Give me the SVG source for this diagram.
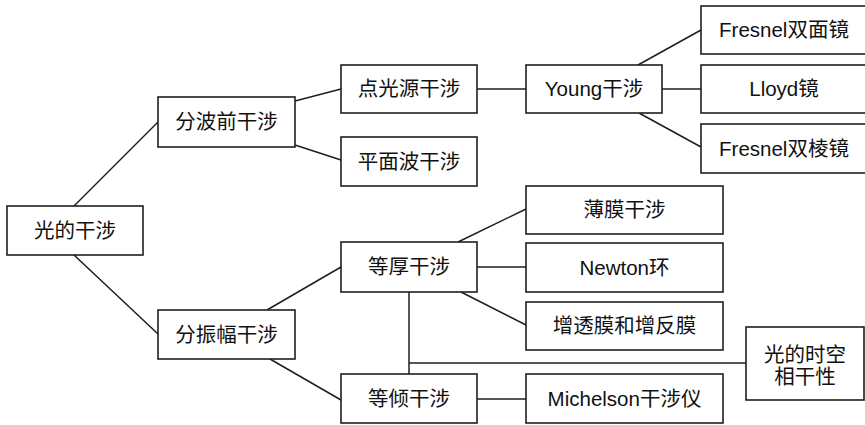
<svg xmlns="http://www.w3.org/2000/svg" width="865" height="425" viewBox="0 0 865 425">
<style>
rect{fill:#fff;stroke:#1e1e1e;stroke-width:1.6}
text{font-family:"Liberation Sans","Noto Sans CJK SC",sans-serif;font-size:20.5px;fill:#111;text-anchor:middle}
#edges line{stroke:#1e1e1e;stroke-width:1.5}
</style>
<rect x="0" y="0" width="865" height="425" style="stroke:none"/>
<g id="edges">
<line x1="74" y1="206" x2="158" y2="122"/>
<line x1="74" y1="255" x2="158" y2="334"/>
<line x1="295" y1="101" x2="341" y2="89"/>
<line x1="295" y1="145" x2="341" y2="160"/>
<line x1="477" y1="89" x2="526" y2="89"/>
<line x1="638" y1="65" x2="701" y2="30"/>
<line x1="662" y1="89" x2="701" y2="89"/>
<line x1="639" y1="113" x2="701" y2="147"/>
<line x1="267" y1="310" x2="341" y2="267"/>
<line x1="270" y1="359" x2="341" y2="400"/>
<line x1="458" y1="242" x2="526" y2="209"/>
<line x1="477" y1="267" x2="526" y2="267"/>
<line x1="461" y1="292" x2="526" y2="325"/>
<line x1="409" y1="292" x2="409" y2="374"/>
<line x1="409" y1="363" x2="746" y2="363"/>
<line x1="477" y1="399" x2="526" y2="399"/>
</g>
<g id="n0"><rect x="7" y="206" width="136" height="49"/><text x="75" y="237.5">光的干涉</text></g>
<g id="n1"><rect x="158" y="97" width="137" height="50"/><text x="226.5" y="129">分波前干涉</text></g>
<g id="n2"><rect x="158" y="310" width="137" height="49"/><text x="226.5" y="341.5">分振幅干涉</text></g>
<g id="n3"><rect x="341" y="65" width="136" height="48"/><text x="409" y="96">点光源干涉</text></g>
<g id="n4"><rect x="341" y="137" width="136" height="49"/><text x="409" y="168.5">平面波干涉</text></g>
<g id="n5"><rect x="526" y="65" width="136" height="48"/><text x="594" y="96">Young干涉</text></g>
<g id="n6"><rect x="701" y="6" width="166" height="48"/><text x="784" y="37">Fresnel双面镜</text></g>
<g id="n7"><rect x="701" y="65" width="166" height="48"/><text x="784" y="96">Lloyd镜</text></g>
<g id="n8"><rect x="701" y="124" width="166" height="49"/><text x="784" y="155.5">Fresnel双棱镜</text></g>
<g id="n9"><rect x="526" y="186" width="197" height="48"/><text x="624.5" y="217">薄膜干涉</text></g>
<g id="n10"><rect x="341" y="242" width="136" height="50"/><text x="409" y="274">等厚干涉</text></g>
<g id="n11"><rect x="526" y="243" width="197" height="49"/><text x="624.5" y="274.5">Newton环</text></g>
<g id="n12"><rect x="526" y="302" width="197" height="48"/><text x="624.5" y="333">增透膜和增反膜</text></g>
<g id="n13"><rect x="341" y="374" width="136" height="49"/><text x="409" y="405.5">等倾干涉</text></g>
<g id="n14"><rect x="526" y="374" width="197" height="49"/><text x="624.5" y="405.5">Michelson干涉仪</text></g>
<g id="n15"><rect x="746" y="327" width="118" height="73"/><text x="805" y="362">光的时空</text><text x="805" y="384">相干性</text></g>
</svg>
